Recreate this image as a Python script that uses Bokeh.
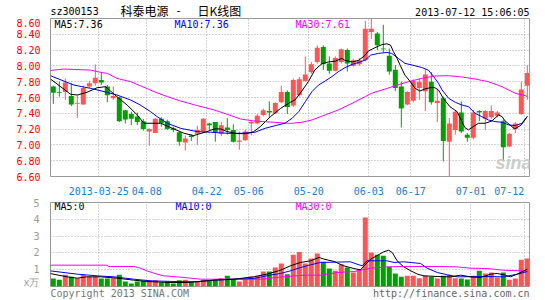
from bokeh.plotting import figure
from bokeh.layouts import column
from bokeh.models import Range1d, FixedTicker, ColumnDataSource, Label, PrintfTickFormatter
from bokeh.embed import file_html
from bokeh.resources import INLINE

# ---------------- data ----------------
symbol = "sz300153"
title_parts = ["科泰电源", "-", "日K线图"]
timestamp = "2013-07-12 15:06:05"
copyright_text = "Copyright 2013 SINA.COM"
url_text = "http://finance.sina.com.cn"

opens = [7.74, 7.67, 7.67, 7.62, 7.52, 7.51, 7.74, 7.78, 7.82, 7.74,
         7.59, 7.60, 7.44, 7.39, 7.36, 7.30, 7.17, 7.15, 7.33, 7.30,
         7.21, 7.16, 7.03, 7.12, 7.14, 7.17, 7.27, 7.29, 7.14, 7.22,
         7.19, 7.04, 7.06, 7.27, 7.27, 7.38, 7.43, 7.40, 7.54, 7.67,
         7.50, 7.63, 7.81, 7.92, 8.05, 8.24, 8.03, 7.94, 8.05, 8.20,
         8.00, 8.02, 8.07, 8.43, 8.41, 8.22, 8.13, 7.95, 7.74, 7.51,
         7.56, 7.72, 7.68, 7.80, 7.53, 7.59, 7.04, 7.19, 7.41, 7.13,
         7.09, 7.43, 7.33, 7.35, 7.37, 7.30, 6.98, 7.20, 7.39, 7.75]
highs = [7.75, 7.80, 7.84, 7.78, 7.63, 7.75, 7.81, 8.02, 7.92, 7.76,
         7.74, 7.61, 7.44, 7.42, 7.41, 7.33, 7.21, 7.34, 7.35, 7.32,
         7.23, 7.17, 7.12, 7.13, 7.24, 7.34, 7.28, 7.29, 7.29, 7.34,
         7.26, 7.17, 7.19, 7.31, 7.39, 7.46, 7.55, 7.54, 7.75, 7.69,
         7.84, 7.86, 8.12, 8.05, 8.26, 8.26, 8.12, 8.12, 8.22, 8.22,
         8.09, 8.10, 8.57, 8.60, 8.43, 8.52, 8.22, 8.01, 7.80, 7.68,
         7.83, 7.84, 7.96, 7.92, 7.71, 7.61, 7.34, 7.43, 7.55, 7.15,
         7.44, 7.44, 7.44, 7.50, 7.43, 7.32, 7.15, 7.29, 7.80, 8.01]
lows = [7.52, 7.61, 7.57, 7.49, 7.34, 7.51, 7.72, 7.75, 7.76, 7.54,
        7.57, 7.29, 7.27, 7.25, 7.25, 7.18, 6.99, 7.15, 7.23, 7.19,
        7.16, 6.99, 6.93, 7.05, 7.00, 7.15, 7.19, 7.04, 7.11, 7.13,
        7.03, 6.94, 7.05, 7.12, 7.26, 7.36, 7.34, 7.39, 7.53, 7.39,
        7.48, 7.61, 7.80, 7.90, 8.03, 7.95, 7.90, 7.93, 8.03, 7.93,
        7.99, 8.00, 8.06, 8.34, 8.20, 8.17, 7.89, 7.68, 7.22, 7.50,
        7.54, 7.57, 7.43, 7.51, 7.29, 6.79, 6.60, 7.13, 7.15, 7.04,
        7.07, 7.30, 7.19, 7.33, 7.35, 6.79, 6.97, 7.15, 7.38, 7.57]
closes = [7.66, 7.66, 7.79, 7.51, 7.53, 7.72, 7.78, 7.85, 7.79, 7.63,
          7.62, 7.30, 7.32, 7.33, 7.29, 7.20, 7.20, 7.33, 7.27, 7.20,
          7.19, 7.04, 7.08, 7.10, 7.19, 7.33, 7.25, 7.16, 7.25, 7.19,
          7.04, 7.055, 7.17, 7.29, 7.37, 7.44, 7.41, 7.53, 7.67, 7.48,
          7.82, 7.83, 7.89, 8.02, 8.23, 8.02, 7.94, 8.10, 8.21, 8.03,
          8.07, 8.07, 8.47, 8.47, 8.26, 8.21, 7.93, 7.72, 7.46, 7.67,
          7.81, 7.80, 7.89, 7.54, 7.56, 7.05, 7.27, 7.42, 7.17, 7.09,
          7.41, 7.41, 7.43, 7.43, 7.41, 6.97, 7.14, 7.27, 7.70, 7.91]
volumes = [0.476, 0.397, 0.694, 0.575, 0.496, 0.694, 0.595, 0.595, 0.476, 0.476,
           0.496, 0.694, 0.30, 0.18, 0.30, 0.337, 0.377, 0.377, 0.24, 0.30,
           0.18, 0.377, 0.397, 0.30, 0.30, 0.397, 0.377, 0.377, 0.496, 0.635,
           0.436, 0.30, 0.436, 0.595, 0.635, 0.893, 0.893, 1.13, 1.37, 0.73,
           1.885, 2.06, 1.37, 1.667, 1.964, 1.468, 1.07, 0.933, 1.33, 1.13,
           0.833, 0.992, 4.107, 2.02, 1.885, 1.825, 1.17, 0.774, 0.575, 0.635,
           0.635, 0.496, 0.635, 0.575, 0.476, 0.635, 0.694, 0.496, 0.476, 0.417,
           0.635, 0.933, 0.774, 0.833, 0.536, 0.833, 0.397, 0.476, 1.587, 1.667]

date_labels = ["2013-03-25", "04-08", "04-22", "05-06", "05-20", "06-03", "06-17", "07-01", "07-12"]
date_index = [8, 16, 26, 33, 43, 53, 60, 70, 79]

price_ticks = [6.60, 6.80, 7.00, 7.20, 7.40, 7.60, 7.80, 8.00, 8.20, 8.40, 8.60]
vol_ticks = [0, 1, 2, 3, 4, 5]
vol_tick_labels = ["x万", "1", "2", "3", "4", "5"]

ma5_label, ma10_label, ma30_label = "MA5:7.36", "MA10:7.36", "MA30:7.61"
vma5_label, vma10_label, vma30_label = "MA5:0", "MA10:0", "MA30:0"

# moving-average lines (candle index, value)
ma5_idx = [-0.47, 2.9, 4.0, 5.6, 7.3, 8.7, 10.6, 12.3, 14.0, 15.1, 17.9, 20.1, 21.8, 23.4, 25.6,
           26.8, 27.9, 29.0, 30.6, 32.3, 33.4, 34.5, 36.2, 37.9, 39.5, 40.3, 41.4, 42.5, 43.6,
           44.8, 45.9, 47.0, 48.1, 48.6, 49.8, 50.9, 52.0, 52.5, 53.6, 54.8, 55.6, 56.2, 56.7,
           57.3, 57.8, 58.6, 59.5, 60.3, 61.1, 61.9, 62.8, 63.6, 64.2, 65.0, 66.1, 67.3, 68.1,
           68.6, 69.2, 70.0, 70.9, 72.0, 73.1, 74.2, 74.8, 75.3, 76.1, 76.9, 78.0, 79.0]
ma5_val = [7.834, 7.64, 7.632, 7.665, 7.724, 7.737, 7.611, 7.505, 7.379, 7.274, 7.274, 7.202, 7.147,
           7.118, 7.168, 7.202, 7.202, 7.168, 7.143, 7.143, 7.168, 7.232, 7.358, 7.463, 7.539, 7.57,
           7.68, 7.80, 7.95, 8.03, 8.05, 8.06, 8.095, 8.07, 8.05, 8.07, 8.137, 8.187, 8.23, 8.27,
           8.28, 8.263, 8.18, 8.095, 8.01, 7.884, 7.80, 7.716, 7.682, 7.707, 7.724, 7.724, 7.695,
           7.589, 7.484, 7.421, 7.295, 7.219, 7.19, 7.232, 7.274, 7.274, 7.303, 7.379, 7.358, 7.303,
           7.253, 7.202, 7.253, 7.36]
ma10_idx = [-0.47, 3.4, 6.2, 9.0, 10.6, 12.9, 14.5, 16.2, 17.3, 19.0, 21.2, 24.0, 26.2, 29.0, 31.4,
            33.6, 35.3, 37.0, 38.6, 39.8, 40.9, 42.0, 43.1, 44.2, 45.3, 46.4, 47.5, 48.6, 49.8,
            50.9, 52.0, 52.9, 54.2, 55.6, 56.4, 57.5, 58.6, 59.8, 61.4, 62.5, 63.1, 63.6, 64.2,
            64.8, 65.9, 67.0, 68.1, 69.2, 70.3, 71.4, 72.5, 73.6, 74.8, 75.9, 77.0, 78.1, 79.0]
ma10_val = [7.876, 7.758, 7.716, 7.665, 7.632, 7.568, 7.505, 7.421, 7.358, 7.274, 7.21, 7.168, 7.16,
            7.147, 7.147, 7.16, 7.21, 7.244, 7.274, 7.337, 7.421, 7.547, 7.674, 7.758, 7.808, 7.863,
            7.926, 7.977, 8.019, 8.044, 8.074, 8.137, 8.158, 8.171, 8.158, 8.095, 8.032, 8.011, 7.98,
            7.947, 7.893, 7.842, 7.779, 7.695, 7.589, 7.539, 7.505, 7.484, 7.40, 7.358, 7.316, 7.295,
            7.286, 7.253, 7.244, 7.274, 7.36]
ma30_idx = [-0.47, 1.7, 6.2, 7.9, 9.0, 10.6, 12.9, 14.5, 16.8, 19.0, 21.2, 24.0, 26.8, 29.0, 31.2,
            33.4, 36.8, 39.5, 41.4, 43.1, 45.3, 47.5, 49.8, 52.0, 53.0, 55.3, 57.0, 59.2, 61.4,
            63.6, 65.9, 68.1, 70.3, 72.5, 74.8, 77.0, 78.7, 79.0]
ma30_val = [7.942, 7.96, 7.947, 7.918, 7.905, 7.842, 7.80, 7.749, 7.674, 7.611, 7.556, 7.497, 7.442,
            7.387, 7.328, 7.303, 7.286, 7.272, 7.286, 7.316, 7.379, 7.442, 7.526, 7.611, 7.653, 7.707,
            7.749, 7.80, 7.842, 7.872, 7.876, 7.86, 7.834, 7.80, 7.737, 7.653, 7.623, 7.61]

vma5_idx = [-0.5, 2.3, 4.0, 5.6, 7.9, 10.6, 13.4, 15.6, 19.0, 22.3, 24.5, 26.8, 30.1, 33.4, 35.6,
            37.9, 39.5, 41.2, 42.9, 44.3, 45.1, 46.8, 48.4, 50.1, 51.2, 51.8, 52.9, 53.9, 55.0,
            55.9, 56.5, 57.3, 58.4, 59.6, 60.7, 61.8, 64.0, 66.2, 67.9, 69.5, 71.2, 72.9, 74.0,
            75.1, 76.2, 77.3, 79.0]
vma5_val = [0.77, 0.575, 0.496, 0.575, 0.575, 0.496, 0.377, 0.30, 0.24, 0.24, 0.30, 0.377, 0.437,
            0.575, 0.734, 0.972, 1.23, 1.43, 1.53, 1.73, 1.63, 1.49, 1.23, 1.07, 0.992, 1.23, 1.63,
            1.825, 2.06, 2.16, 2.02, 1.53, 1.17, 0.93, 0.734, 0.635, 0.595, 0.575, 0.675, 0.575,
            0.536, 0.734, 0.774, 0.694, 0.575, 0.734, 1.03]
vma10_idx = [-0.5, 4.0, 7.3, 10.1, 13.4, 16.2, 20.1, 23.4, 26.8, 30.1, 33.4, 36.2, 37.9, 39.5, 41.2,
             42.9, 44.5, 49.5, 50.6, 51.5, 52.3, 55.6, 56.8, 58.4, 61.2, 62.3, 64.0, 65.7, 67.3,
             71.8, 75.0, 77.3, 79.0]
vma10_val = [0.93, 0.734, 0.635, 0.575, 0.437, 0.337, 0.298, 0.278, 0.377, 0.437, 0.476, 0.68, 0.78,
             0.93, 1.13, 1.29, 1.43, 1.47, 1.33, 1.23, 1.53, 1.53, 1.43, 1.47, 1.37, 1.09, 0.833,
             0.694, 0.575, 0.595, 0.575, 0.73, 0.89]
vma30_idx = [-0.5, 9.0, 9.2, 13.4, 14.5, 15.6, 17.3, 18.4, 20.6, 22.9, 24.5, 35.0, 36.2, 39.0, 41.8,
             44.5, 47.3, 50.1, 52.9, 55.7, 58.4, 64.0, 67.3, 69.5, 72.3, 75.0, 78.4, 79.0]
vma30_val = [1.27, 1.27, 1.19, 1.19, 1.09, 0.93, 0.734, 0.635, 0.575, 0.496, 0.437, 0.437, 0.50,
             0.595, 0.675, 0.675, 0.83, 0.893, 1.09, 1.17, 1.19, 1.19, 1.17, 1.09, 1.07, 0.97, 0.93,
             0.89]

# ---------------- styling / layout ----------------
RED = "#ff5555"
GREEN = "#00a000"
GRID = "#aaaaaa"
BORDER = "#999999"
MONO = "DejaVu Sans Mono"
CJK = "Noto Sans CJK SC"

W = 545
FL, FR = 50, 16
FW = W - FL - FR                     # 479 px frame width
HEAD_H = 18
P1_TOP, P1_FH, P1_BOT = 0, 159, 20
P2_TOP, P2_FH, P2_BOT = 5, 84, 1
FOOT_H = 300 - HEAD_H - (P1_TOP + P1_FH + P1_BOT) - (P2_TOP + P2_FH + P2_BOT)
H1 = P1_TOP + P1_FH + P1_BOT
H2 = P2_TOP + P2_FH + P2_BOT
P1_FRAME_TOP = HEAD_H + P1_TOP                  # page px
P2_FRAME_BOTTOM = HEAD_H + H1 + P2_TOP + P2_FH  # page px
FOOT_TOP = HEAD_H + H1 + H2

PX_PER_CANDLE = 6.0
FIRST_CENTER_PX = 52.8
x_lo = (FL - FIRST_CENTER_PX) / PX_PER_CANDLE
x_hi = (FL + FW - FIRST_CENTER_PX) / PX_PER_CANDLE
half = 2.5 / PX_PER_CANDLE

n = len(opens)
idx = list(range(n))
up = [c >= o for o, c in zip(opens, closes)]
colors = [RED if u else GREEN for u in up]
src = ColumnDataSource(dict(
    x=idx, open=opens, high=highs, low=lows, close=closes,
    top=[max(o, c) for o, c in zip(opens, closes)],
    bottom=[min(o, c) for o, c in zip(opens, closes)],
    vol=volumes, color=colors))

grid_pos = [round(i - half, 3) for i in date_index]
label_pos = list(grid_pos)
label_pos[-1] = round(grid_pos[-1] - 2.6, 3)   # last label is pulled inside the frame

p_lo, p_hi = price_ticks[0], price_ticks[-1]


def sx(px):
    return x_lo + (px - FL) * (x_hi - x_lo) / FW


def sy1(py):
    return p_hi - (py - P1_FRAME_TOP) * (p_hi - p_lo) / P1_FH


def sy2(py):
    return (P2_FRAME_BOTTOM - py) * 5.0 / P2_FH


def style(p):
    p.background_fill_color = "white"
    p.border_fill_color = "white"
    p.outline_line_color = BORDER
    p.outline_line_width = 1
    for ax in p.axis:
        ax.axis_line_color = None
        ax.major_tick_line_color = None
        ax.minor_tick_line_color = None
        ax.major_label_text_font = MONO
        ax.major_label_text_font_size = "10px"
    for g in p.grid:
        g.grid_line_color = GRID
        g.grid_line_dash = "1 2"
        g.grid_line_width = 1


def lab(p, x, y, text, color="black", align="left", size="10px", font=MONO):
    p.add_layout(Label(x=x, y=y, text=text, text_color=color, text_align=align,
                       text_baseline="middle", text_font=font, text_font_size=size))


def strip(height, y_top):
    # a text-only strip whose data coordinates are page pixels
    s = figure(width=W, height=height, output_backend="svg", toolbar_location=None, title=None,
               x_range=Range1d(FL, W - FR), y_range=Range1d(y_top + height, y_top),
               x_axis_location=None, y_axis_location=None,
               min_border_left=FL, min_border_right=FR, min_border_top=0, min_border_bottom=0)
    s.outline_line_color = None
    s.xgrid.visible = False
    s.ygrid.visible = False
    s.background_fill_color = "white"
    s.border_fill_color = "white"
    return s


# ---------------- header ----------------
head = strip(HEAD_H, 0)
lab(head, 50, 11, symbol)
lab(head, 120, 9.5, title_parts[0], font=CJK, size="12px")
lab(head, 176, 9.5, title_parts[1], font=CJK, size="12px")
lab(head, 197, 9.5, title_parts[2], font=CJK, size="12px")
lab(head, 529, 12, timestamp, align="right")

# ---------------- price panel ----------------
p1 = figure(width=W, height=H1, output_backend="svg", toolbar_location=None, title=None,
            x_range=Range1d(x_lo, x_hi), y_range=Range1d(p_lo, p_hi),
            min_border_left=FL, min_border_right=FR, min_border_top=P1_TOP,
            min_border_bottom=P1_BOT)
style(p1)
p1.yaxis.ticker = FixedTicker(ticks=price_ticks)
p1.yaxis.formatter = PrintfTickFormatter(format="%.2f")
p1.yaxis.major_label_text_color = "#ff0000"
p1.yaxis.major_label_standoff = 4
p1.xaxis.ticker = FixedTicker(ticks=label_pos)
p1.xaxis.major_label_overrides = {pos: lab_ for pos, lab_ in zip(label_pos, date_labels)}
p1.xaxis.major_label_text_color = "#1780d0"
p1.xaxis.major_label_standoff = 4
p1.xgrid.ticker = FixedTicker(ticks=grid_pos)
p1.ygrid.ticker = FixedTicker(ticks=price_ticks[1:-1])

p1.add_layout(Label(x=sx(495), y=sy1(163), text="sina", text_font="Liberation Sans",
                    text_font_style="bold italic", text_font_size="18px",
                    text_color="#cccccc", text_baseline="middle", text_align="left"))

p1.segment(x0="x", y0="low", x1="x", y1="high", color="color", line_width=1, source=src)
p1.vbar(x="x", width=5 / 6, top="top", bottom="bottom", fill_color="color",
        line_color=None, source=src)
p1.line(ma30_idx, ma30_val, color="#ff00ff", line_width=1)
p1.line(ma10_idx, ma10_val, color="#0000ff", line_width=1)
p1.line(ma5_idx, ma5_val, color="#000000", line_width=1)

lab(p1, sx(54), sy1(24), ma5_label)
lab(p1, sx(174), sy1(24), ma10_label, color="#0000ff")
lab(p1, sx(295), sy1(24), ma30_label, color="#ff00ff")

# ---------------- volume panel ----------------
p2 = figure(width=W, height=H2, output_backend="svg", toolbar_location=None, title=None,
            x_range=p1.x_range, y_range=Range1d(0, 5), x_axis_location=None,
            min_border_left=FL, min_border_right=FR, min_border_top=P2_TOP,
            min_border_bottom=P2_BOT)
style(p2)
p2.yaxis.ticker = FixedTicker(ticks=vol_ticks)
p2.yaxis.major_label_overrides = {t: s for t, s in zip(vol_ticks, vol_tick_labels)}
p2.yaxis.major_label_text_color = "#999999"
p2.yaxis.major_label_standoff = 5
p2.xgrid.ticker = FixedTicker(ticks=grid_pos)
p2.ygrid.ticker = FixedTicker(ticks=vol_ticks[1:-1])

p2.vbar(x="x", width=5 / 6, top="vol", bottom=0, fill_color="color", line_color=None, source=src)
p2.line(vma30_idx, vma30_val, color="#ff00ff", line_width=1)
p2.line(vma10_idx, vma10_val, color="#0000ff", line_width=1)
p2.line(vma5_idx, vma5_val, color="#000000", line_width=1)

lab(p2, sx(54), sy2(206), vma5_label)
lab(p2, sx(175), sy2(206), vma10_label, color="#0000ff")
lab(p2, sx(295), sy2(206), vma30_label, color="#ff00ff")

# ---------------- footer ----------------
foot = strip(FOOT_H, FOOT_TOP)
lab(foot, 50, 293, copyright_text, color="#777777")
lab(foot, 529, 293, url_text, color="#666666", align="right")

layout = column(head, p1, p2, foot, spacing=0)
open("out.html", "w").write(file_html(layout, INLINE))
